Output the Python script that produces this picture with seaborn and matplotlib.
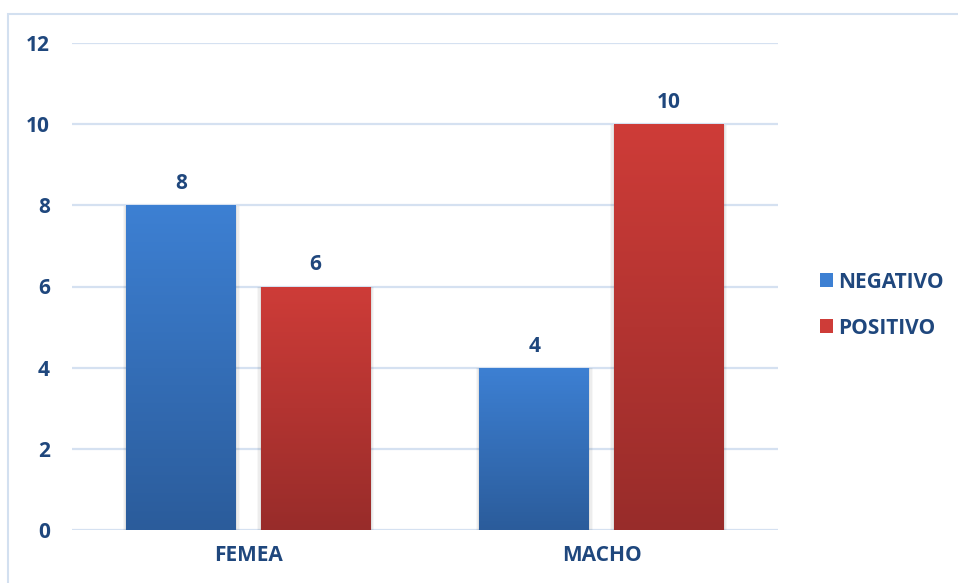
import numpy as np
import pandas as pd
import matplotlib
matplotlib.use("Agg")
import matplotlib.pyplot as plt
import matplotlib.patches as mpatches
import matplotlib.colors as mcolors
import seaborn as sns

# Data
categories = ["FEMEA", "MACHO"]
series = ["NEGATIVO", "POSITIVO"]
negativo = [8, 4]
positivo = [6, 10]
y_ticks = [0, 2, 4, 6, 8, 10, 12]

df = pd.DataFrame({
    "sexo": categories * 2,
    "resultado": [series[0]] * len(categories) + [series[1]] * len(categories),
    "n": negativo + positivo,
})

# Gradient ends for each series (top, bottom)
grad = {
    "NEGATIVO": ("#3d80d3", "#2b5c9b"),
    "POSITIVO": ("#ce3c38", "#982c2a"),
}
mid = {k: v[0] for k, v in grad.items()}
text_color = "#1f477d"
grid_color = "#d5e1f1"
FS = 15

sns.set_theme(style="white")
plt.rcParams["font.family"] = ["Open Sans", "DejaVu Sans"]
plt.rcParams["font.weight"] = "bold"

fig = plt.figure(figsize=(9.58, 5.83), dpi=100)
ax = fig.add_axes([72 / 958, 53 / 583, (778 - 72) / 958, (530 - 43) / 583])

sns.barplot(data=df, x="sexo", y="n", hue="resultado", order=categories,
            hue_order=series, palette=mid, width=0.76, gap=0.18,
            ax=ax, legend=False, errorbar=None, saturation=1)

ax.set_xlim(-0.5, 1.5)
ax.set_ylim(0, 12)
ax.set_yticks(y_ticks)
ax.yaxis.grid(True, color=grid_color, linewidth=1.6)
ax.set_axisbelow(True)
for s in ax.spines.values():
    s.set_visible(False)
ax.set_xlabel("")
ax.set_ylabel("")
ax.tick_params(axis="y", length=0, pad=16, labelsize=FS, labelcolor=text_color)
ax.tick_params(axis="x", length=0, pad=11, labelsize=FS, labelcolor=text_color)
for lab in ax.get_xticklabels() + ax.get_yticklabels():
    lab.set_fontweight("bold")

# Replace flat fills with vertical gradients, one per bar
for container, name in zip(ax.containers, series):
    top, bottom = grad[name]
    cmap = mcolors.LinearSegmentedColormap.from_list(name, [bottom, top])
    for bar in container:
        x0 = bar.get_x()
        w = bar.get_width()
        h = bar.get_height()
        # soft shadow behind the bar
        for k, a in enumerate([0.05, 0.04, 0.03]):
            d = 0.003 * (k + 1)
            sh = mpatches.Rectangle((x0 - d, -0.02 - 0.03 * (k + 1)), w + 2 * d,
                                    h + 0.03 * (k + 1), facecolor="black",
                                    alpha=a, edgecolor="none", zorder=1.5)
            ax.add_patch(sh)
        img = ax.imshow(np.linspace(0, 1, 256).reshape(-1, 1), cmap=cmap,
                        origin="lower", aspect="auto",
                        extent=(x0, x0 + w, 0, h), zorder=2)
        img.set_clip_path(bar)
        bar.set_facecolor("none")
        bar.set_edgecolor("none")
    ax.bar_label(container, labels=[f"{v:g}" for v in container.datavalues],
                 padding=8, fontsize=FS, fontweight="bold", color=text_color)

ax.set_xlim(-0.5, 1.5)
ax.set_ylim(0, 12)

# Legend
handles = []
for name in series:
    top, bottom = grad[name]
    handles.append(mpatches.Patch(facecolor=top, edgecolor="none", label=name))
leg = fig.legend(handles=handles, loc="center left",
                 bbox_to_anchor=(801 / 958, 1 - 305 / 583), frameon=False,
                 handlelength=0.65, handleheight=0.65, handletextpad=0.25,
                 labelspacing=1.2, fontsize=FS)
for t in leg.get_texts():
    t.set_color(text_color)
    t.set_fontweight("bold")

# Outer chart frame
frame = mpatches.Rectangle((8 / 958, -0.05), 1.2, 1 - 14 / 583 + 0.05,
                           transform=fig.transFigure, facecolor="none",
                           edgecolor="#d3e0f0", linewidth=1.5, clip_on=False)
fig.patches.append(frame)

fig.savefig("out.png", dpi=100)
